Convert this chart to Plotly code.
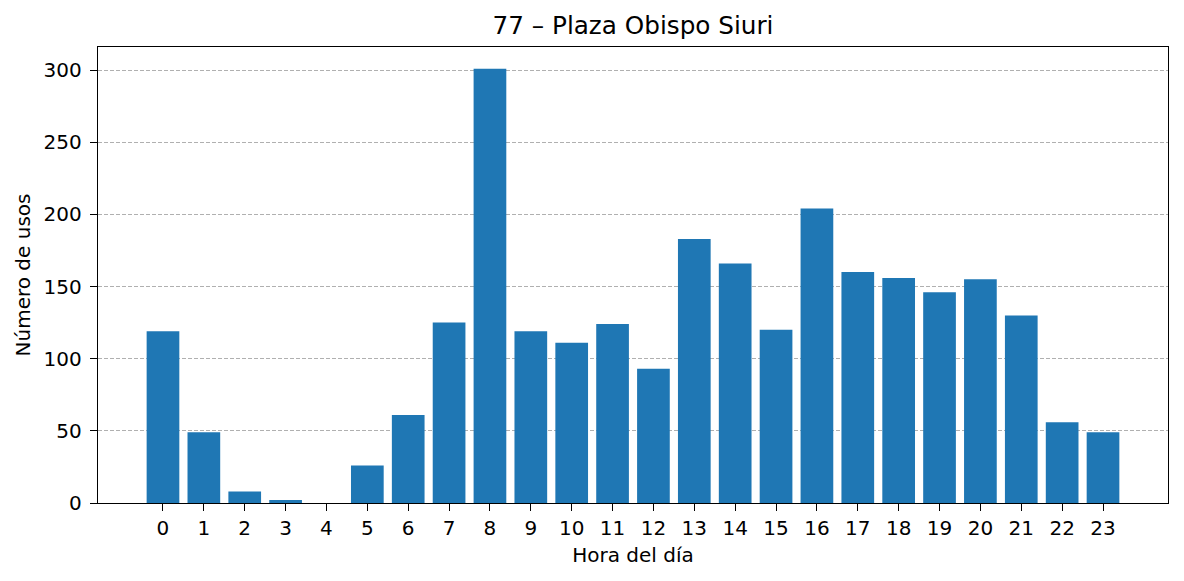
import plotly.graph_objects as go

horas = list(range(24))
usos = [119, 49, 8, 2, 0, 26, 61, 125, 301, 119, 111, 124, 93, 183, 166, 120, 204, 160, 156, 146, 155, 130, 56, 49]
titulo = "77 – Plaza Obispo Siuri"

fig = go.Figure(go.Bar(x=horas, y=usos, marker_color="#1f77b4", marker_line_width=0, width=0.8))

font = "DejaVu Sans, sans-serif"
fig.update_layout(
    width=1184, height=581,
    margin=dict(l=98, r=16, t=47, b=78),
    paper_bgcolor="white", plot_bgcolor="white",
    font=dict(family=font, size=20, color="black"),
    title=dict(text=titulo, x=0.5, xref="paper", xanchor="center", y=1 - 25 / 581, yanchor="middle",
               font=dict(size=24.7, family=font, color="black")),
    showlegend=False,
)
fig.update_xaxes(
    range=[-1.59, 24.59], tickmode="array", tickvals=horas, ticktext=[str(h) for h in horas],
    showline=True, linecolor="black", linewidth=1.4, mirror=True,
    ticks="outside", ticklen=7, tickwidth=1.4, tickcolor="black", showgrid=False, zeroline=False,
    tickfont=dict(size=20),
    title=dict(text="Hora del día", font=dict(size=20), standoff=8),
)
fig.update_yaxes(
    range=[0, 316], tickvals=[0, 50, 100, 150, 200, 250, 300],
    showline=True, linecolor="black", linewidth=1.4, mirror=True,
    ticks="outside", ticklen=7, tickwidth=1.4, tickcolor="black", ticklabelstandoff=4,
    tickfont=dict(size=20),
    showgrid=True, gridcolor="#b0b0b0", griddash="4px,2px", gridwidth=0.8, zeroline=False,
    title=dict(text="Número de usos", font=dict(size=20), standoff=7),
)
fig.write_html("out.html")
